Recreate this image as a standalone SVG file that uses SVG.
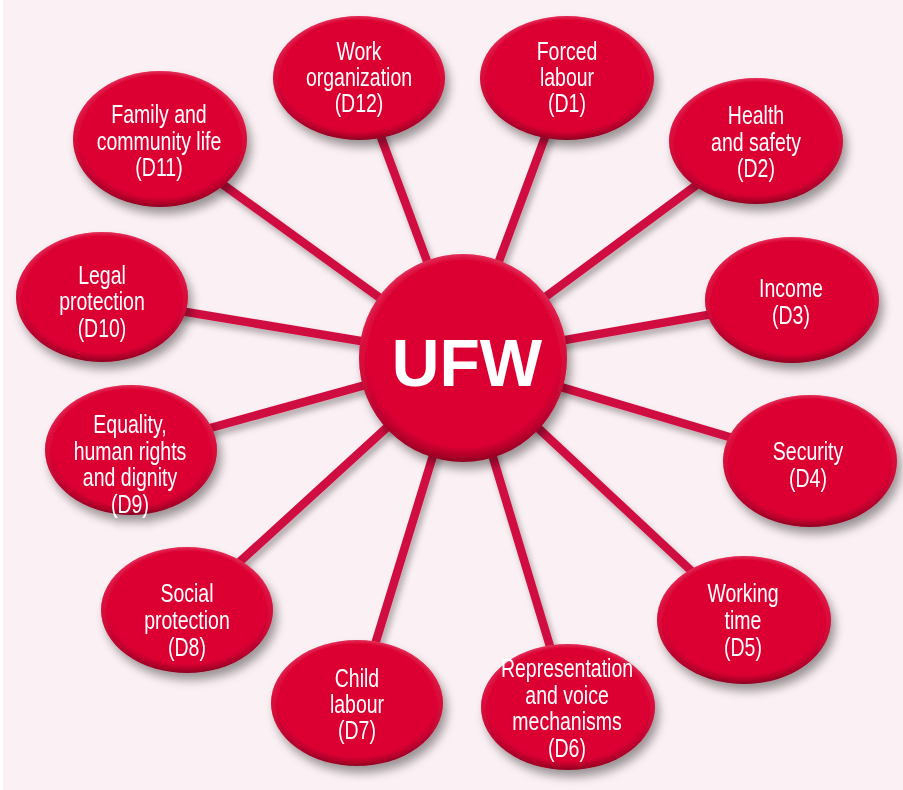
<svg xmlns="http://www.w3.org/2000/svg" width="903" height="790" viewBox="0 0 903 790">
<defs>
<linearGradient id="rim" x1="0" y1="0" x2="0" y2="1">
<stop offset="0" stop-color="#ec6e8c"/>
<stop offset="0.5" stop-color="#d6113f"/>
<stop offset="1" stop-color="#8e0020"/>
</linearGradient>
<radialGradient id="face" cx="0.5" cy="0.48" r="0.52">
<stop offset="0" stop-color="#dc0032"/>
<stop offset="0.86" stop-color="#dc0032"/>
<stop offset="1" stop-color="#dc0032" stop-opacity="0"/>
</radialGradient>
<filter id="sh" x="-20%" y="-20%" width="150%" height="150%">
<feDropShadow dx="4" dy="7" stdDeviation="5" flood-color="#000" flood-opacity="0.38"/>
</filter>
<filter id="lsh" x="-20%" y="-20%" width="140%" height="140%">
<feDropShadow dx="3" dy="5" stdDeviation="3" flood-color="#000" flood-opacity="0.3"/>
</filter>
</defs>
<style>
.bg{fill:#fbf0f3}
.n{fill:url(#rim)}
.f{fill:url(#face)}
.t{font-family:"Liberation Sans",Arial,sans-serif;font-size:25px;fill:#fff;text-anchor:middle}
.c{stroke:#cf1040;stroke-width:8.5;stroke-linecap:round;fill:none}
.u{font-family:"Liberation Sans",Arial,sans-serif;font-weight:bold;font-size:66px;fill:#fff;text-anchor:middle}
</style>
<rect width="903" height="790" fill="#ffffff"/>
<rect x="3" y="0" width="900" height="790" class="bg"/>
<g id="connectors" filter="url(#lsh)">
<line class="c" x1="463" y1="358" x2="359" y2="78"/>
<line class="c" x1="463" y1="358" x2="567" y2="78"/>
<line class="c" x1="463" y1="358" x2="756" y2="141"/>
<line class="c" x1="463" y1="358" x2="792" y2="300"/>
<line class="c" x1="463" y1="358" x2="810" y2="461"/>
<line class="c" x1="463" y1="358" x2="744" y2="620"/>
<line class="c" x1="463" y1="358" x2="568" y2="706"/>
<line class="c" x1="463" y1="358" x2="357" y2="703"/>
<line class="c" x1="463" y1="358" x2="187" y2="610"/>
<line class="c" x1="463" y1="358" x2="131" y2="450"/>
<line class="c" x1="463" y1="358" x2="102" y2="298"/>
<line class="c" x1="463" y1="358" x2="160" y2="139"/>
</g>
<g id="d12" filter="url(#sh)"><ellipse class="n" cx="359" cy="78" rx="86" ry="62"/><ellipse class="f" cx="359" cy="78" rx="86" ry="62"/><g transform="translate(359 0) scale(0.78 1)"><text class="t" x="0" y="60">Work</text><text class="t" x="0" y="86">organization</text><text class="t" x="0" y="112">(D12)</text></g></g>
<g id="d1" filter="url(#sh)"><ellipse class="n" cx="567" cy="78" rx="87" ry="62"/><ellipse class="f" cx="567" cy="78" rx="87" ry="62"/><g transform="translate(567 0) scale(0.78 1)"><text class="t" x="0" y="60">Forced</text><text class="t" x="0" y="86">labour</text><text class="t" x="0" y="112">(D1)</text></g></g>
<g id="d2" filter="url(#sh)"><ellipse class="n" cx="756" cy="141" rx="87" ry="63"/><ellipse class="f" cx="756" cy="141" rx="87" ry="63"/><g transform="translate(756 0) scale(0.78 1)"><text class="t" x="0" y="124">Health</text><text class="t" x="0" y="151">and safety</text><text class="t" x="0" y="177">(D2)</text></g></g>
<g id="d3" filter="url(#sh)"><ellipse class="n" cx="792" cy="300" rx="87" ry="63"/><ellipse class="f" cx="792" cy="300" rx="87" ry="63"/><g transform="translate(791 0) scale(0.78 1)"><text class="t" x="0" y="297">Income</text><text class="t" x="0" y="324">(D3)</text></g></g>
<g id="d4" filter="url(#sh)"><ellipse class="n" cx="810" cy="461" rx="87" ry="66"/><ellipse class="f" cx="810" cy="461" rx="87" ry="66"/><g transform="translate(808 0) scale(0.78 1)"><text class="t" x="0" y="460">Security</text><text class="t" x="0" y="487">(D4)</text></g></g>
<g id="d5" filter="url(#sh)"><ellipse class="n" cx="744" cy="620" rx="87" ry="64"/><ellipse class="f" cx="744" cy="620" rx="87" ry="64"/><g transform="translate(743 0) scale(0.78 1)"><text class="t" x="0" y="602">Working</text><text class="t" x="0" y="629">time</text><text class="t" x="0" y="656">(D5)</text></g></g>
<g id="d6" filter="url(#sh)"><ellipse class="n" cx="568" cy="707" rx="87" ry="63"/><ellipse class="f" cx="568" cy="707" rx="87" ry="63"/><g transform="translate(567 0) scale(0.78 1)"><text class="t" x="0" y="677">Representation</text><text class="t" x="0" y="704">and voice</text><text class="t" x="0" y="730">mechanisms</text><text class="t" x="0" y="757">(D6)</text></g></g>
<g id="d7" filter="url(#sh)"><ellipse class="n" cx="357" cy="703" rx="86" ry="63"/><ellipse class="f" cx="357" cy="703" rx="86" ry="63"/><g transform="translate(357 0) scale(0.78 1)"><text class="t" x="0" y="687">Child</text><text class="t" x="0" y="713">labour</text><text class="t" x="0" y="739">(D7)</text></g></g>
<g id="d8" filter="url(#sh)"><ellipse class="n" cx="187" cy="610" rx="86" ry="63"/><ellipse class="f" cx="187" cy="610" rx="86" ry="63"/><g transform="translate(187 0) scale(0.78 1)"><text class="t" x="0" y="602">Social</text><text class="t" x="0" y="629">protection</text><text class="t" x="0" y="656">(D8)</text></g></g>
<g id="d9" filter="url(#sh)"><ellipse class="n" cx="131" cy="450" rx="86" ry="65"/><ellipse class="f" cx="131" cy="450" rx="86" ry="65"/><g transform="translate(130 0) scale(0.78 1)"><text class="t" x="0" y="433">Equality,</text><text class="t" x="0" y="460">human rights</text><text class="t" x="0" y="486">and dignity</text><text class="t" x="0" y="513">(D9)</text></g></g>
<g id="d10" filter="url(#sh)"><ellipse class="n" cx="102" cy="297" rx="86" ry="65"/><ellipse class="f" cx="102" cy="297" rx="86" ry="65"/><g transform="translate(102 0) scale(0.78 1)"><text class="t" x="0" y="284">Legal</text><text class="t" x="0" y="310">protection</text><text class="t" x="0" y="337">(D10)</text></g></g>
<g id="d11" filter="url(#sh)"><ellipse class="n" cx="160" cy="139" rx="87" ry="68"/><ellipse class="f" cx="160" cy="139" rx="87" ry="68"/><g transform="translate(159 0) scale(0.78 1)"><text class="t" x="0" y="123">Family and</text><text class="t" x="0" y="150">community life</text><text class="t" x="0" y="176">(D11)</text></g></g>
<g id="ufw" filter="url(#sh)"><circle class="n" cx="463" cy="358" r="104"/><circle class="f" cx="463" cy="358" r="104"/><text class="u" x="467" y="386">UFW</text></g>
</svg>
